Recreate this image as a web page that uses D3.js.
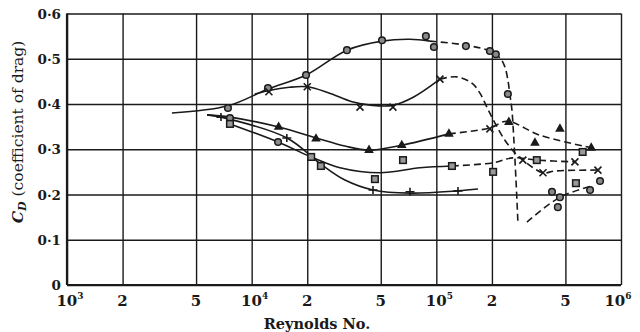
<!DOCTYPE html>
<html><head><meta charset="utf-8">
<script src="https://cdn.jsdelivr.net/npm/d3@7"></script>
<style>body{margin:0;background:#fff}svg{display:block}</style>
</head><body><svg id="c" width="640" height="332"></svg>
<script>
// ---- tick labels ----
const xTicks = [1e3, 2e3, 5e3, 1e4, 2e4, 5e4, 1e5, 2e5, 5e5, 1e6];
const xTickLabels = [["10","3"],["2"],["5"],["10","4"],["2"],["5"],["10","5"],["2"],["5"],["10","6"]];
const yTicks = [0, 0.1, 0.2, 0.3, 0.4, 0.5, 0.6];
const yTickLabels = ["0","0·1","0·2","0·3","0·4","0·5","0·6"];

// ---- curves [Reynolds No., C_D] ----
const circleSolid = [[3.7e3,0.380],[7.44e3,0.396],[1.225e4,0.433],[1.97e4,0.464],[3.28e4,0.519],[5.08e4,0.539],[7.2e4,0.543],[9.23e4,0.539]];
const circleDash = [[9.23e4,0.539],[1.446e5,0.530],[1.95e5,0.517],[2.21e5,0.502],[2.35e5,0.482],[2.44e5,0.453],[2.50e5,0.422],[2.566e5,0.387],[2.63e5,0.320],[2.70e5,0.232],[2.765e5,0.139]];
const circleRise = [[3.095e5,0.139],[4.67e5,0.194],[6.96e5,0.219]];
const crossSolid = [[1.04e4,0.422],[1.24e4,0.430],[1.6e4,0.437],[2.0e4,0.438],[2.6e4,0.425],[3.5e4,0.405],[4.5e4,0.397],[5.8e4,0.397],[7.5e4,0.415],[1.046e5,0.455]];
const crossDash = [[1.046e5,0.455],[1.293e5,0.460],[1.559e5,0.446],[1.722e5,0.424],[1.879e5,0.393],[2.077e5,0.358],[2.351e5,0.320],[2.664e5,0.292],[2.944e5,0.276],[3.778e5,0.248],[4.39e5,0.252],[7.5e5,0.254]];
const triSolid = [[5.73e3,0.376],[7.63e3,0.371],[1.405e4,0.349],[2.229e4,0.325],[3.2e4,0.307],[4.32e4,0.298],[6.51e4,0.309],[1.17e5,0.334]];
const triDash = [[1.17e5,0.334],[1.95e5,0.347],[2.41e5,0.362],[3.64e5,0.331],[6.96e5,0.303]];
const plusSolid = [[5.73e3,0.376],[6.82e3,0.371],[1.553e4,0.325],[2.372e4,0.267],[3.2e4,0.232],[4.54e4,0.210],[7.2e4,0.203],[1.309e5,0.208],[1.68e5,0.212]];
const squareSolid = [[7.63e3,0.356],[1.388e4,0.316],[2.095e4,0.283],[3.007e4,0.259],[4.95e4,0.248],[8.15e4,0.259],[1.215e5,0.263]];
const squareDash = [[1.215e5,0.263],[2.025e5,0.270],[2.598e5,0.281],[3.505e5,0.276],[5.63e5,0.272]];

// ---- plotted points ----
const circlePts = [[7.44e3,0.391],[7.63e3,0.369],[1.225e4,0.435],[1.39e4,0.316],[1.97e4,0.464],[3.28e4,0.519],[5.08e4,0.541],[8.78e4,0.550],[9.7e4,0.526],[1.446e5,0.528],[1.95e5,0.517],[2.1e5,0.510],[2.44e5,0.422],[4.23e5,0.206],[4.67e5,0.194],[4.55e5,0.172],[6.8e5,0.210],[7.7e5,0.230]];
const squarePts = [[7.63e3,0.356],[2.1e4,0.283],[2.37e4,0.263],[4.65e4,0.234],[6.6e4,0.276],[1.215e5,0.263],[2.03e5,0.250],[3.5e5,0.276],[5.7e5,0.225],[6.2e5,0.294]];
const trianglePts = [[1.4e4,0.349],[2.23e4,0.323],[4.32e4,0.298],[6.5e4,0.309],[1.17e5,0.334],[2.47e5,0.360],[3.42e5,0.314],[4.67e5,0.345],[6.9e5,0.303]];
const crossPts = [[1.24e4,0.427],[2.0e4,0.438],[3.86e4,0.393],[5.82e4,0.393],[1.046e5,0.455],[1.95e5,0.345],[2.94e5,0.276],[3.78e5,0.248],[5.63e5,0.272],[7.5e5,0.254]];
const plusPts = [[6.82e3,0.371],[1.55e4,0.325],[4.54e4,0.210],[7.2e4,0.206],[1.31e5,0.208]];

const svg = d3.select("#c");
const x = d3.scaleLog().domain([1e3, 1e6]).range([67, 621]);
const y = d3.scaleLinear().domain([0, 0.6]).range([285, 13.5]);
const ink = "#1a1a1a";

// grid via axes
const gx = svg.append("g").attr("transform", `translate(0,${y(0)})`)
  .call(d3.axisBottom(x).tickValues(xTicks).tickFormat("").tickSize(-(y(0)-y(0.6))).tickSizeOuter(0));
gx.select(".domain").remove();
gx.selectAll(".tick line").attr("stroke", ink).attr("stroke-width", 1.4);
const gy = svg.append("g").attr("transform", `translate(${x(1e3)},0)`)
  .call(d3.axisLeft(y).tickValues(yTicks).tickFormat("").tickSize(-(x(1e6)-x(1e3))).tickSizeOuter(0));
gy.select(".domain").remove();
gy.selectAll(".tick line").attr("stroke", ink).attr("stroke-width", 1.4);
// heavier axes
svg.append("line").attr("x1", x(1e3)).attr("x2", x(1e6)).attr("y1", y(0)).attr("y2", y(0)).attr("stroke", ink).attr("stroke-width", 2.2);
svg.append("line").attr("x1", x(1e3)).attr("x2", x(1e3)).attr("y1", y(0)).attr("y2", y(0.6)).attr("stroke", ink).attr("stroke-width", 2.2);

// tick labels
const serif = "'DejaVu Serif', 'Liberation Serif', serif";
svg.append("g").selectAll("text").data(yTicks).join("text")
  .attr("x", 61).attr("y", d => y(d) + 5)
  .attr("text-anchor", "end").attr("font-family", serif).attr("font-weight", "bold")
  .attr("font-size", 13.5).attr("fill", ink)
  .text((d, i) => yTickLabels[i]);
const xl = svg.append("g").selectAll("text").data(xTicks).join("text")
  .attr("x", (d, i) => x(d) + (xTickLabels[i].length > 1 ? (i === xTicks.length - 1 ? -3 : 3) : 0))
  .attr("y", 306).attr("text-anchor", "middle")
  .attr("font-family", serif).attr("font-weight", "bold").attr("font-size", 15).attr("fill", ink);
xl.each(function(d, i) {
  const t = d3.select(this), lab = xTickLabels[i];
  t.append("tspan").text(lab[0]);
  if (lab.length > 1) t.append("tspan").attr("font-size", 9).attr("dy", -7).text(lab[1]);
});

// axis titles
svg.append("text").attr("x", 317).attr("y", 329).attr("text-anchor", "middle")
  .attr("font-family", serif).attr("font-weight", "bold").attr("font-size", 14.5).attr("fill", ink)
  .text("Reynolds No.");
const yt = svg.append("text").attr("transform", "translate(23,132) rotate(-90)")
  .attr("text-anchor", "middle").attr("font-family", serif).attr("font-size", 15.5).attr("fill", ink);
yt.append("tspan").attr("font-style", "italic").attr("font-weight", "bold").text("C");
yt.append("tspan").attr("font-style", "italic").attr("font-weight", "bold").attr("font-size", 11).attr("dy", 3).text("D");
yt.append("tspan").attr("dy", -3).text(" (coefficient of drag)");

// curves
const line = d3.line().x(d => x(d[0])).y(d => y(d[1])).curve(d3.curveCatmullRom.alpha(0.5));
const solids = [circleSolid, crossSolid, triSolid, plusSolid, squareSolid];
const dashes = [circleDash, circleRise, crossDash, triDash, squareDash];
svg.append("g").selectAll("path").data(solids).join("path")
  .attr("d", line).attr("fill", "none").attr("stroke", ink).attr("stroke-width", 1.6);
svg.append("g").selectAll("path").data(dashes).join("path")
  .attr("d", line).attr("fill", "none").attr("stroke", ink).attr("stroke-width", 1.6)
  .attr("stroke-dasharray", "7,4");

// markers
const mk = svg.append("g");
mk.selectAll(".ci").data(circlePts).join("circle").attr("class", "ci")
  .attr("cx", d => x(d[0])).attr("cy", d => y(d[1])).attr("r", 3.3)
  .attr("fill", "#8a8a8a").attr("stroke", ink).attr("stroke-width", 1.5);
mk.selectAll(".sq").data(squarePts).join("rect").attr("class", "sq")
  .attr("x", d => x(d[0]) - 3.3).attr("y", d => y(d[1]) - 3.3).attr("width", 6.6).attr("height", 6.6)
  .attr("fill", "#999").attr("stroke", ink).attr("stroke-width", 1.5);
mk.selectAll(".tr").data(trianglePts).join("path").attr("class", "tr")
  .attr("transform", d => `translate(${x(d[0])},${y(d[1])})`)
  .attr("d", d3.symbol(d3.symbolTriangle, 40)).attr("fill", ink);
mk.selectAll(".cr").data(crossPts).join("path").attr("class", "cr")
  .attr("transform", d => `translate(${x(d[0])},${y(d[1])})`)
  .attr("d", "M-3.5,-3.5L3.5,3.5M-3.5,3.5L3.5,-3.5").attr("stroke", ink).attr("stroke-width", 1.6);
mk.selectAll(".pl").data(plusPts).join("path").attr("class", "pl")
  .attr("transform", d => `translate(${x(d[0])},${y(d[1])})`)
  .attr("d", "M-4.5,0L4.5,0M0,-4L0,4").attr("stroke", ink).attr("stroke-width", 1.6);
</script></body></html>
